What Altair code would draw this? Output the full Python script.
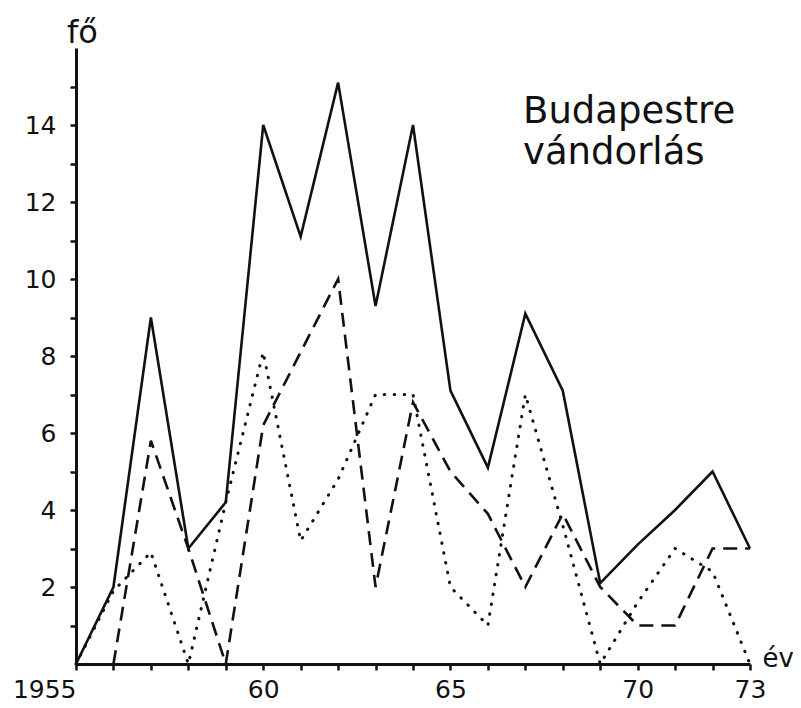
import altair as alt
import pandas as pd

years = list(range(1955, 1974))
solid = [0, 2.0, 9.0, 3.0, 4.2, 14.0, 11.1, 15.1, 9.3, 14.0, 7.1, 5.1, 9.1, 7.1, 2.1, 3.1, 4.0, 5.0, 3.0]
dashed = [None, 0, 5.8, 3.0, 0, 6.2, 8.1, 10.0, 2.0, 6.8, 5.0, 3.9, 2.0, 3.9, 2.0, 1.0, 1.0, 3.0, 3.0]
dotted = [0, 1.9, 2.9, 0, 4.2, 8.1, 3.2, 4.8, 7.0, 7.0, 2.0, 1.0, 7.0, 3.6, 0, 1.6, 3.0, 2.4, 0]
y_ticks = list(range(1, 16))
x_ticks = years
title_lines = ["Budapestre", "vándorlás"]

FONT = "DejaVu Sans"
INK = "#111111"

x_enc = alt.X(
    "year:Q",
    scale=alt.Scale(domain=[1955, 1973], nice=False, zero=False),
    axis=alt.Axis(
        values=x_ticks,
        labelExpr="datum.value == 1955 ? '1955' : ((datum.value % 5 == 0 || datum.value == 1973) ? '' + (datum.value - 1900) : '')",
        labelAlign={"condition": {"test": "datum.value == 1955", "value": "right"}, "value": "center"},
        labelFontSize=25,
        labelPadding=7,
        title="év",
        titleAngle=0,
        titleAlign="left",
        titleBaseline="alphabetic",
        titleX=686,
        titleY=2,
        titleFontSize=26,
        titleFontWeight="normal",
    ),
)
y_enc = alt.Y(
    "value:Q",
    scale=alt.Scale(domain=[0, 16], nice=False),
    axis=alt.Axis(
        values=y_ticks,
        labelExpr="datum.value % 2 == 0 ? '' + datum.value : ''",
        labelFontSize=25,
        labelPadding=14,
        title="fő",
        titleAngle=0,
        titleAlign="center",
        titleBaseline="alphabetic",
        titleX=6,
        titleY=-6,
        titleFontSize=32,
        titleFontWeight="normal",
    ),
)

df_solid = pd.DataFrame({"year": years, "value": solid})
df_dashed = pd.DataFrame({"year": years, "value": dashed})
df_dotted = pd.DataFrame({"year": years, "value": dotted})

l_solid = alt.Chart(df_solid).mark_line(color=INK, strokeWidth=2.6).encode(x=x_enc, y=y_enc)
l_dashed = alt.Chart(df_dashed).mark_line(color=INK, strokeWidth=2.6, strokeDash=[14, 8]).encode(
    x=x_enc, y=y_enc
)
l_dotted = alt.Chart(df_dotted).mark_line(
    color=INK, strokeWidth=3, strokeDash=[0.5, 9.5], strokeCap="round"
).encode(x=x_enc, y=y_enc)

label = (
    alt.Chart(alt.Data(values=[{}]))
    .mark_text(
        align="left", baseline="alphabetic", font=FONT, fontSize=37, lineHeight=41, color=INK
    )
    .encode(x=alt.value(447), y=alt.value(75), text=alt.value(title_lines))
)

chart = (
    alt.layer(l_dotted, l_dashed, l_solid, label)
    .properties(
        width=674,
        height=616,
        autosize=alt.AutoSizeParams(type="none"),
        padding={"left": 68, "top": 40, "right": 43, "bottom": 40},
        background="white",
    )
    .configure_view(stroke=None)
    .configure_axis(
        grid=False,
        domainColor=INK,
        domainWidth=3,
        tickColor=INK,
        tickWidth=2.5,
        tickSize=6,
        labelColor=INK,
        titleColor=INK,
        labelFont=FONT,
        titleFont=FONT,
    )
)

chart.save("out.html", embed_options={"renderer": "svg", "actions": False})
